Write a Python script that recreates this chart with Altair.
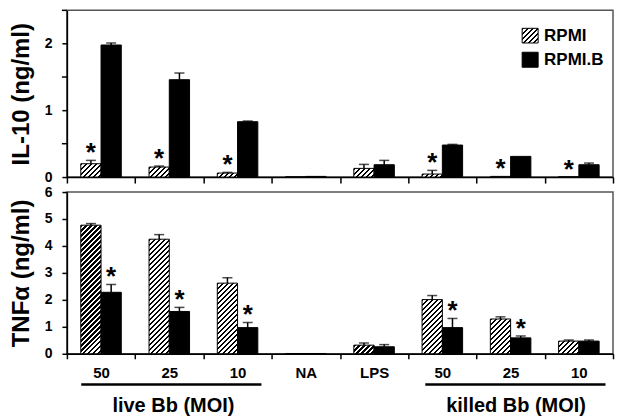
import json
import altair as alt

# ---------------- data ----------------
groups = ["live 50", "live 25", "live 10", "NA", "LPS", "killed 50", "killed 25", "killed 10"]
tick_labels = ["50", "25", "10", "NA", "LPS", "50", "25", "10"]
series = ["RPMI", "RPMI.B"]

il10_rpmi = [0.20, 0.15, 0.06, 0.005, 0.13, 0.045, 0.01, 0.005]
il10_rpmi_err = [0.05, 0.015, 0.01, 0.0, 0.06, 0.055, 0.0, 0.0]
il10_rpmib = [1.98, 1.46, 0.83, 0.01, 0.185, 0.48, 0.31, 0.185]
il10_rpmib_err = [0.03, 0.10, 0.01, 0.0, 0.065, 0.01, 0.0, 0.025]
il10_star_rpmi = [1, 1, 1, 0, 0, 1, 1, 1]
il10_star_rpmib = [0, 0, 0, 0, 0, 0, 0, 0]
il10_major_ticks = [0, 1, 2]
il10_minor_ticks = [0.5, 1.5, 2.5]

tnf_rpmi = [4.77, 4.25, 2.62, 0.01, 0.32, 2.01, 1.29, 0.47]
tnf_rpmi_err = [0.06, 0.17, 0.20, 0.0, 0.08, 0.15, 0.08, 0.04]
tnf_rpmib = [2.28, 1.57, 0.97, 0.01, 0.26, 0.97, 0.59, 0.47]
tnf_rpmib_err = [0.29, 0.15, 0.19, 0.0, 0.08, 0.34, 0.07, 0.04]
tnf_star_rpmi = [0, 0, 0, 0, 0, 0, 0, 0]
tnf_star_rpmib = [1, 1, 1, 0, 0, 1, 1, 0]
tnf_major_ticks = [0, 1, 2, 3, 4, 5, 6]
tnf_minor_ticks = []

bracket_names = ["live Bb (MOI)", "killed Bb (MOI)"]
bracket_start = [0.21, 5.25]
bracket_end = [2.85, 7.89]
bracket_mid = [1.56, 6.58]

# ---------------- layout / style ----------------
W = 547
H_TOP = 167
H_BOT = 162
Y_TOP_MAX = 2.5
Y_BOT_MAX = 6
PO = 0.685
BAR_W = W / len(groups) / (2 + 2 * PO)
HATCH_STEP = 5.0
HATCH_INK = 0.45
FONT = "Liberation Sans"


def hatch_fill(w, h):
    if h < 1.0:
        return "white"
    n = (w + h) / HATCH_STEP
    t = (w + h) / (w * w + h * h)
    stops = [{"offset": 0, "color": "white"}]
    k = 0
    while k / n < 1:
        a = k / n
        b = min(1.0, (k + HATCH_INK) / n)
        c = min(1.0, (k + 1) / n)
        stops += [
            {"offset": round(a, 4), "color": "black"},
            {"offset": round(b, 4), "color": "black"},
            {"offset": round(b, 4), "color": "white"},
            {"offset": round(c, 4), "color": "white"},
        ]
        k += 1
    return {"gradient": "linear", "x1": 0, "y1": 0,
            "x2": round(t * w, 5), "y2": round(t * h, 5), "stops": stops}


def records(v_rpmi, e_rpmi, v_b, e_b, s_rpmi, s_b, px_per_unit):
    rows = []
    for i, g in enumerate(groups):
        rows.append({"group": g, "series": "RPMI", "value": v_rpmi[i],
                     "errtop": v_rpmi[i] + e_rpmi[i], "err": e_rpmi[i], "star": s_rpmi[i],
                     "fill": hatch_fill(BAR_W, v_rpmi[i] * px_per_unit)})
        rows.append({"group": g, "series": "RPMI.B", "value": v_b[i],
                     "errtop": v_b[i] + e_b[i], "err": e_b[i], "star": s_b[i],
                     "fill": "black"})
    return rows


label_expr = "split('{}', '|')[indexof({}, datum.value)]".format("|".join(tick_labels), json.dumps(groups).replace('"', "'"))


def panel(rows, ymax, title, major, minor, show_labels):
    data = alt.Data(values=rows)
    if show_labels:
        xaxis = alt.Axis(title=None, tickBand="extent", labelExpr=label_expr, labelAngle=0,
                         labelFontSize=15, labelFontWeight="bold", labelPadding=7,
                         tickSize=5, labelFont=FONT)
    else:
        xaxis = alt.Axis(title=None, tickBand="extent", labels=False, tickSize=6)
    x = alt.X("group:N", sort=groups, scale=alt.Scale(domain=groups, paddingInner=0, paddingOuter=0), axis=xaxis)
    xo = alt.XOffset("series:N", sort=series, scale=alt.Scale(domain=series, paddingInner=0, paddingOuter=PO))
    yaxis = alt.Axis(values=major, format="d",
                     tickSize=5, labelPadding=10, labelFontSize=14, labelFontWeight="bold",
                     titleFontSize=24, titleFontWeight="bold", titlePadding=11, grid=False,
                     labelFont=FONT, titleFont=FONT)
    yscale = alt.Scale(domain=[0, ymax], nice=False)
    y = alt.Y("value:Q", scale=yscale, axis=yaxis, title=title, stack=None)
    y_err = alt.Y("errtop:Q", scale=yscale, axis=yaxis, title=title)

    bars = alt.Chart(data).mark_bar(stroke="black", strokeWidth=1).encode(
        x=x, xOffset=xo, y=y, fill=alt.Fill("fill:N", scale=None))
    err_rule = alt.Chart(data).transform_filter("datum.err > 0").mark_rule(
        color="black", strokeWidth=1.5).encode(x=x, xOffset=xo, y=y, y2="errtop:Q")
    err_cap = alt.Chart(data).transform_filter("datum.err > 0").mark_tick(
        color="black", thickness=1.5, size=10).encode(x=x, xOffset=xo, y=y_err)
    stars = alt.Chart(data).transform_filter("datum.star == 1").mark_text(
        text="*", fontSize=26, font=FONT, fontWeight="bold", baseline="alphabetic", dy=1,
        color="black").encode(x=x, xOffset=xo, y=y_err)
    layers = [bars, err_rule, err_cap, stars]
    if minor:
        mt = alt.Chart(alt.Data(values=[{"v": v} for v in minor])).mark_rule(
            color="black", strokeWidth=1.5).encode(
            x=alt.value(-5), x2=alt.value(0),
            y=alt.Y("v:Q", scale=yscale, axis=yaxis, title=title))
        layers.append(mt)
    return layers


top_layers = panel(records(il10_rpmi, il10_rpmi_err, il10_rpmib, il10_rpmib_err,
                           il10_star_rpmi, il10_star_rpmib, H_TOP / Y_TOP_MAX),
                   Y_TOP_MAX, "IL-10 (ng/ml)", il10_major_ticks, il10_minor_ticks, False)

one = alt.Data(values=[{"k": 0}])
LEG_X = W - 91
leg_hatch = alt.Chart(one).mark_rect(fill=hatch_fill(16, 14.7), stroke="black", strokeWidth=1).encode(
    x=alt.value(LEG_X), x2=alt.value(LEG_X + 16), y=alt.value(18), y2=alt.value(32.7))
leg_black = alt.Chart(one).mark_rect(fill="black", stroke="black").encode(
    x=alt.value(LEG_X), x2=alt.value(LEG_X + 16), y=alt.value(42), y2=alt.value(57))
leg_t1 = alt.Chart(one).mark_text(text=series[0], font=FONT, fontSize=17, fontWeight="bold",
                                  align="left", baseline="middle").encode(x=alt.value(LEG_X + 22), y=alt.value(26))
leg_t2 = alt.Chart(one).mark_text(text=series[1], font=FONT, fontSize=17, fontWeight="bold",
                                  align="left", baseline="middle").encode(x=alt.value(LEG_X + 22), y=alt.value(50))

top = alt.layer(*top_layers, leg_hatch, leg_black, leg_t1, leg_t2).properties(width=W, height=H_TOP)

bot_layers = panel(records(tnf_rpmi, tnf_rpmi_err, tnf_rpmib, tnf_rpmib_err,
                           tnf_star_rpmi, tnf_star_rpmib, H_BOT / Y_BOT_MAX),
                   Y_BOT_MAX, "TNFα (ng/ml)", tnf_major_ticks, tnf_minor_ticks, True)

brackets = alt.Data(values=[{"name": n, "start": s, "end": e, "mid": m}
                            for n, s, e, m in zip(bracket_names, bracket_start, bracket_end, bracket_mid)])
qx = alt.Scale(domain=[0, len(groups)], nice=False, zero=False)
br_rule = alt.Chart(brackets).mark_rule(color="black", strokeWidth=2.5).encode(
    x=alt.X("start:Q", scale=qx, axis=None), x2="end:Q", y=alt.value(192.7))
br_text = alt.Chart(brackets).mark_text(font=FONT, fontSize=20, fontWeight="bold",
                                        baseline="middle", color="black").encode(
    x=alt.X("mid:Q", scale=qx, axis=None), y=alt.value(214), text="name:N")
deco = alt.layer(br_rule, br_text)

bottom = alt.layer(alt.layer(*bot_layers), deco).resolve_scale(x="independent").properties(width=W, height=H_BOT)

chart = alt.vconcat(top, bottom, spacing=15, bounds="flush").properties(
    padding={"left": 0, "top": 0, "right": 0, "bottom": 0}
).configure_view(stroke="#555555", strokeWidth=1.5).configure_axis(
    domainColor="black", domainWidth=1.5, tickColor="black", tickWidth=1.5,
    labelColor="black", titleColor="black", grid=False
)

chart.save("out.html", embed_options={"renderer": "svg", "actions": False})
